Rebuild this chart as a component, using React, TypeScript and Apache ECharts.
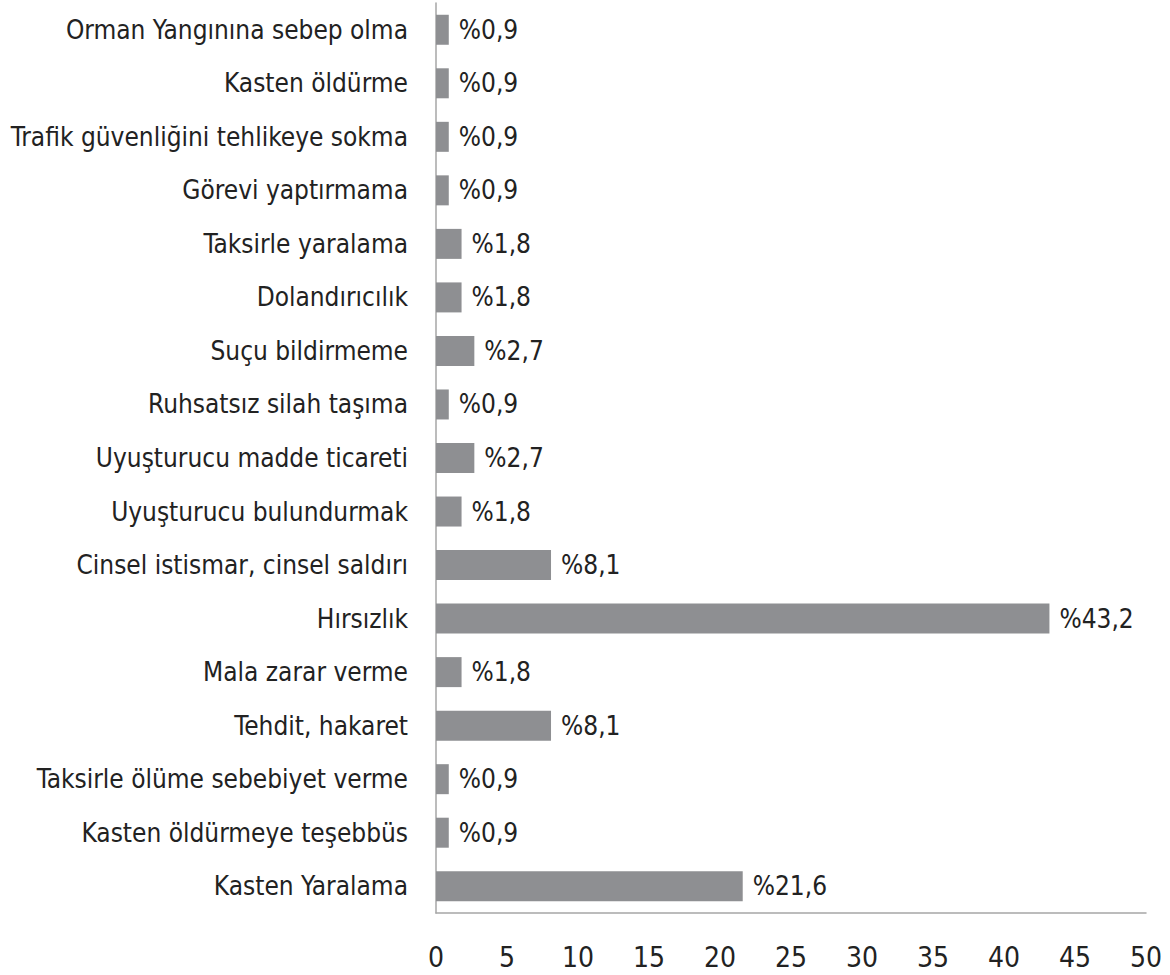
import React, { useEffect, useRef } from "react";
import * as echarts from "echarts";

const categories = [
  "Kasten Yaralama",
  "Kasten öldürmeye teşebbüs",
  "Taksirle ölüme sebebiyet verme",
  "Tehdit, hakaret",
  "Mala zarar verme",
  "Hırsızlık",
  "Cinsel istismar, cinsel saldırı",
  "Uyuşturucu bulundurmak",
  "Uyuşturucu madde ticareti",
  "Ruhsatsız silah taşıma",
  "Suçu bildirmeme",
  "Dolandırıcılık",
  "Taksirle yaralama",
  "Görevi yaptırmama",
  "Trafik güvenliğini tehlikeye sokma",
  "Kasten öldürme",
  "Orman Yangınına sebep olma",
];

const values = [21.6, 0.9, 0.9, 8.1, 1.8, 43.2, 8.1, 1.8, 2.7, 0.9, 2.7, 1.8, 1.8, 0.9, 0.9, 0.9, 0.9];

const FONT = "'DejaVu Sans Condensed', 'Liberation Sans Narrow', sans-serif";

export default function App() {
  const ref = useRef<HTMLDivElement>(null);
  useEffect(() => {
    document.body.style.margin = "0";
    const chart = echarts.init(ref.current!, null, { renderer: "svg" });
    chart.setOption({
      animation: false,
      backgroundColor: "#ffffff",
      grid: { left: 436, right: 24, top: 3, bottom: 62, containLabel: false },
      xAxis: {
        type: "value",
        min: 0,
        max: 50,
        interval: 5,
        axisLine: { show: true, lineStyle: { color: "#a6a6a6", width: 1.5 } },
        axisTick: { show: false },
        splitLine: { show: false },
        axisLabel: { color: "#222", fontSize: 28, fontFamily: FONT, margin: 30 },
      },
      yAxis: {
        type: "category",
        data: categories,
        axisLine: { show: true, lineStyle: { color: "#a6a6a6", width: 1.5 } },
        axisTick: { show: false },
        axisLabel: { color: "#222", fontSize: 26, fontFamily: FONT, margin: 28 },
      },
      series: [
        {
          type: "bar",
          data: values,
          barWidth: 30,
          itemStyle: { color: "#8e8f92" },
          label: {
            show: true,
            position: "right",
            distance: 10,
            color: "#222",
            fontSize: 26,
            fontFamily: FONT,
            formatter: (p: any) => "%" + String(p.value).replace(".", ","),
          },
        },
      ],
    });
    return () => chart.dispose();
  }, []);
  return <div ref={ref} style={{ width: 1170, height: 975 }} />;
}
